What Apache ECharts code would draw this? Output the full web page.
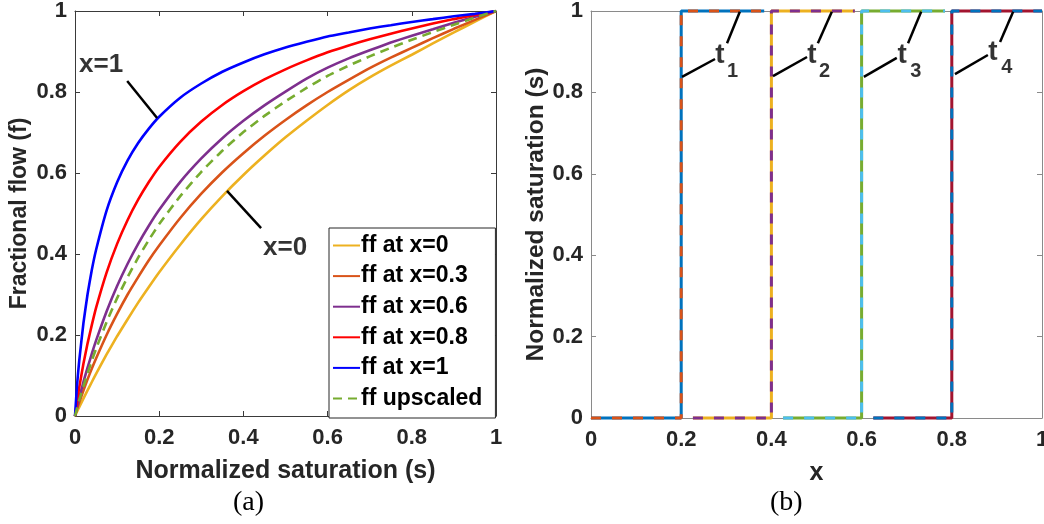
<!DOCTYPE html>
<html><head><meta charset="utf-8">
<script src="https://cdn.jsdelivr.net/npm/echarts@6/dist/echarts.min.js"></script>
<style>html,body{margin:0;padding:0;background:#fff}#c{width:1044px;height:524px}</style>
</head><body><div id="c"></div>
<script>
// ---- data ----
const sat   = [0, 0.005, 0.01, 0.02, 0.03, 0.04, 0.05, 0.075, 0.1, 0.125, 0.15, 0.175, 0.2, 0.25, 0.3, 0.35, 0.4, 0.45, 0.5, 0.55, 0.6, 0.65, 0.7, 0.75, 0.8, 0.85, 0.9, 0.95, 1];
const ffX0  = [0, 0.011, 0.022, 0.043, 0.064, 0.084, 0.104, 0.152, 0.197, 0.239, 0.280, 0.318, 0.355, 0.423, 0.486, 0.543, 0.595, 0.643, 0.688, 0.729, 0.768, 0.804, 0.836, 0.865, 0.892, 0.920, 0.947, 0.974, 1];
const ffX03 = [0, 0.018, 0.033, 0.063, 0.091, 0.117, 0.142, 0.200, 0.252, 0.300, 0.343, 0.384, 0.421, 0.489, 0.549, 0.602, 0.649, 0.692, 0.731, 0.767, 0.800, 0.830, 0.859, 0.885, 0.909, 0.933, 0.956, 0.978, 1];
const ffX06 = [0, 0.023, 0.044, 0.084, 0.120, 0.154, 0.186, 0.258, 0.321, 0.376, 0.425, 0.469, 0.509, 0.578, 0.636, 0.686, 0.729, 0.767, 0.801, 0.833, 0.860, 0.883, 0.903, 0.922, 0.939, 0.955, 0.971, 0.986, 1];
const ffX08 = [0, 0.038, 0.070, 0.129, 0.180, 0.225, 0.267, 0.354, 0.425, 0.484, 0.534, 0.577, 0.615, 0.677, 0.727, 0.768, 0.802, 0.831, 0.856, 0.878, 0.898, 0.915, 0.930, 0.944, 0.957, 0.969, 0.980, 0.990, 1];
const ffX1  = [0, 0.078, 0.136, 0.229, 0.302, 0.361, 0.410, 0.507, 0.577, 0.631, 0.674, 0.709, 0.739, 0.786, 0.821, 0.850, 0.873, 0.893, 0.910, 0.924, 0.937, 0.947, 0.957, 0.965, 0.973, 0.980, 0.987, 0.993, 1];
const ffUp  = [0, 0.020, 0.039, 0.073, 0.106, 0.137, 0.166, 0.232, 0.291, 0.343, 0.391, 0.434, 0.474, 0.543, 0.603, 0.655, 0.701, 0.741, 0.777, 0.810, 0.840, 0.865, 0.888, 0.909, 0.929, 0.948, 0.966, 0.984, 1];
const legendNames = ['ff at x=0', 'ff at x=0.3', 'ff at x=0.6', 'ff at x=0.8', 'ff at x=1', 'ff upscaled'];
const tickLabels = ['0', '0.2', '0.4', '0.6', '0.8', '1'];

// fronts (x, s) for panel (b)
const frontT1 = [[0, 0], [0.2, 0], [0.2, 1], [0.384, 1]];
const frontT2 = [[0.226, 0], [0.4, 0], [0.4, 1], [0.585, 1]];
const frontT3 = [[0.426, 0], [0.6, 0], [0.6, 1], [0.785, 1]];
const frontT4 = [[0.626, 0], [0.8, 0], [0.8, 1], [1, 1]];

// annotations (data coordinates)
const annX1Line = [[0.124, 0.827], [0.195, 0.736]];
const annX0Line = [[0.361, 0.556], [0.442, 0.464]];
const annLeftText = [[0.062, 0.867, 'x=1'], [0.499, 0.415, 'x=0']];
const annTLines = [
  [[0.2018, 0.838], [0.275, 0.882]], [[0.3016, 0.921], [0.330, 0.998]],
  [[0.4035, 0.840], [0.479, 0.887]], [[0.503, 0.921], [0.534, 0.998]],
  [[0.605, 0.838], [0.678, 0.885]], [[0.703, 0.921], [0.732, 0.998]],
  [[0.807, 0.845], [0.880, 0.892]], [[0.907, 0.924], [0.936, 0.998]]
];
const annTMain = [[0.286, 0.892, 't'], [0.490, 0.892, 't'], [0.690, 0.892, 't'], [0.891, 0.899, 't']];
const annTSub  = [[0.314, 0.851, '1'], [0.518, 0.851, '2'], [0.720, 0.851, '3'], [0.922, 0.860, '4']];

// ---- styles ----
const FONT = '"Liberation Sans", Arial, Helvetica, sans-serif';
const TXT = '#262626';

function mkAxes(gi, frame, xName, yName, xGap, yGap, xSize, ySize) {
  const common = {
    type: 'value', gridIndex: gi, min: 0, max: 1, interval: 0.2,
    splitLine: { show: false },
    axisLine: { show: true, onZero: false, lineStyle: { color: frame, width: 1 } },
    axisTick: { show: true, inside: true, length: 5, lineStyle: { color: frame, width: 1 } }
  };
  const lbl = {
    show: true, fontSize: 22, fontWeight: 'bold', color: TXT, fontFamily: FONT,
    formatter: v => tickLabels[Math.round(v / 0.2)]
  };
  const nameStyle = s => ({ fontSize: s, fontWeight: 'bold', color: TXT, fontFamily: FONT });
  return {
    x: [
      Object.assign({}, common, { position: 'bottom', axisLabel: Object.assign({}, lbl, { margin: 11 }),
        name: xName, nameLocation: 'middle', nameGap: xGap, nameTextStyle: nameStyle(xSize) }),
      Object.assign({}, common, { position: 'top', axisLabel: { show: false } })
    ],
    y: [
      Object.assign({}, common, { position: 'left', axisLabel: Object.assign({}, lbl, { margin: 8 }),
        name: yName, nameLocation: 'middle', nameGap: yGap, nameTextStyle: nameStyle(ySize) }),
      Object.assign({}, common, { position: 'right', axisLabel: { show: false } })
    ]
  };
}
const A = mkAxes(0, '#3a3a3a', 'Normalized saturation (s)', 'Fractional flow (f)', 43, 44, 25, 23);
const B = mkAxes(1, '#8a8a8a', 'x', 'Normalized saturation (s)', 43, 40, 25, 24.5);

const pair = arr => sat.map((s, i) => [s, arr[i]]);
function curve(name, arr, color, dashed) {
  return {
    name, type: 'line', xAxisIndex: 0, yAxisIndex: 0, data: pair(arr),
    smooth: 0.15, symbol: 'none', silent: true,
    lineStyle: { color, width: 2.6, type: dashed ? [9, 6] : 'solid' },
    itemStyle: { color }
  };
}
function front(data, c1, c2) {
  return [
    { type: 'line', xAxisIndex: 2, yAxisIndex: 2, data, symbol: 'none', silent: true, clip: false,
      lineStyle: { color: c1, width: 3 } },
    { type: 'line', xAxisIndex: 2, yAxisIndex: 2, data, symbol: 'none', silent: true, clip: false,
      lineStyle: { color: c2, width: 3, type: [10, 11] } }
  ];
}
function annLine(data, xi) {
  return { type: 'line', xAxisIndex: xi, yAxisIndex: xi, data, symbol: 'none', silent: true, z: 5,
    lineStyle: { color: '#000', width: 2.5 } };
}
function annText(items, xi, size) {
  return { type: 'scatter', xAxisIndex: xi, yAxisIndex: xi, symbolSize: 1, silent: true, z: 6,
    itemStyle: { color: 'rgba(0,0,0,0)' },
    data: items.map(d => ({ value: [d[0], d[1]], label: { formatter: d[2] } })),
    label: { show: true, position: 'inside', color: '#000', fontSize: size, fontWeight: 'bold', fontFamily: FONT } };
}

const series = [
  curve(legendNames[0], ffX0, '#EDB120'),
  curve(legendNames[1], ffX03, '#D95319'),
  curve(legendNames[2], ffX06, '#7E2F8E'),
  curve(legendNames[3], ffX08, '#FF0000'),
  curve(legendNames[4], ffX1, '#0000FF'),
  curve(legendNames[5], ffUp, '#77AC30', true),
  annLine(annX1Line, 0), annLine(annX0Line, 0),
  annText(annLeftText, 0, 26),
  ...front(frontT1, '#0072BD', '#D95319'),
  ...front(frontT2, '#EDB120', '#7E2F8E'),
  ...front(frontT3, '#77AC30', '#4DBEEE'),
  ...front(frontT4, '#A2142F', '#0072BD'),
  ...annTLines.map(l => annLine(l, 2)),
  annText(annTMain, 2, 28),
  annText(annTSub, 2, 20)
];

const chart = echarts.init(document.getElementById('c'), null, { renderer: 'canvas' });
chart.setOption({
  animation: false,
  backgroundColor: '#fff',
  grid: [
    { left: 75, top: 11, width: 421, height: 405, outerBoundsMode: 'none', containLabel: false },
    { left: 591, top: 11, width: 451, height: 407, outerBoundsMode: 'none', containLabel: false }
  ],
  xAxis: [...A.x, ...B.x],
  yAxis: [...A.y, ...B.y],
  legend: {
    data: legendNames, orient: 'vertical', left: 329, top: 228,
    padding: [6, 13, 8, 3], itemGap: 7.6, itemWidth: 27, itemHeight: 12,
    backgroundColor: '#fff', borderColor: '#262626', borderWidth: 1, borderRadius: 0,
    selectedMode: false,
    itemStyle: { color: 'rgba(0,0,0,0)', borderWidth: 0, opacity: 0 },
    textStyle: { fontSize: 23, fontWeight: 'bold', color: '#000', fontFamily: FONT, lineHeight: 22, padding: [0, 0, 0, -4] }
  },
  graphic: [
    { type: 'text', left: 233, top: 489, style: { text: '(a)', font: '28px "Liberation Serif", "Times New Roman", serif', fill: '#000' } },
    { type: 'text', left: 770, top: 489, style: { text: '(b)', font: '28px "Liberation Serif", "Times New Roman", serif', fill: '#000' } }
  ],
  series
});
</script></body></html>
